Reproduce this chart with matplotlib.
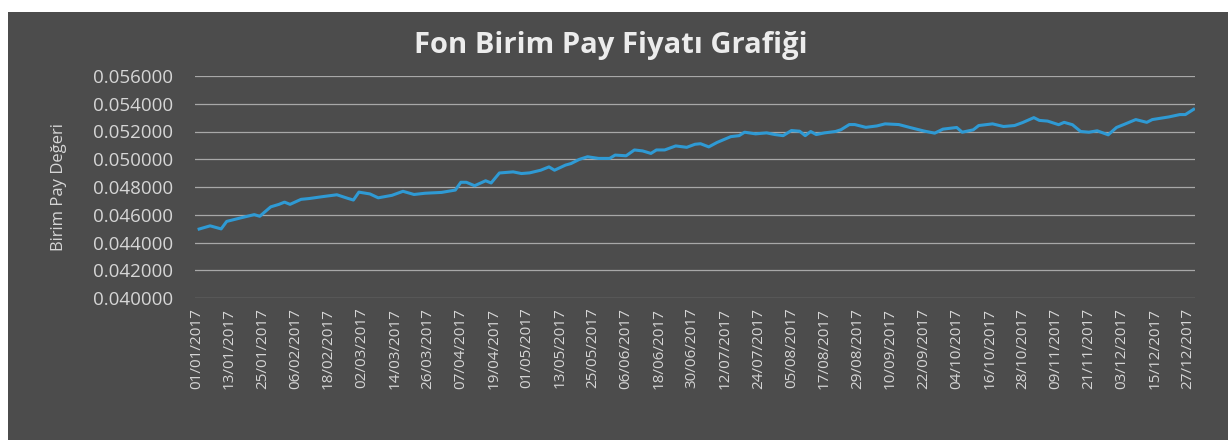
import numpy as np
import pandas as pd
import matplotlib
matplotlib.use("Agg")
import matplotlib.pyplot as plt
import matplotlib.dates as mdates
from matplotlib.patches import Rectangle

# values (date, unit price)
dates = [
    "2017-01-02", "2017-01-06", "2017-01-10", "2017-01-12", "2017-01-17", "2017-01-22",
    "2017-01-24", "2017-01-28", "2017-01-31", "2017-02-02", "2017-02-04", "2017-02-08",
    "2017-02-11", "2017-02-16", "2017-02-21", "2017-02-25", "2017-02-27", "2017-03-01",
    "2017-03-05", "2017-03-08", "2017-03-13", "2017-03-17", "2017-03-21", "2017-03-25",
    "2017-03-31", "2017-04-05", "2017-04-07", "2017-04-09", "2017-04-12", "2017-04-16",
    "2017-04-18", "2017-04-21", "2017-04-26", "2017-04-29", "2017-05-02", "2017-05-06",
    "2017-05-09", "2017-05-11", "2017-05-15", "2017-05-17", "2017-05-20", "2017-05-23",
    "2017-05-27", "2017-05-31", "2017-06-02", "2017-06-06", "2017-06-09", "2017-06-12",
    "2017-06-15", "2017-06-17", "2017-06-20", "2017-06-24", "2017-06-28", "2017-07-01",
    "2017-07-03", "2017-07-06", "2017-07-09", "2017-07-14", "2017-07-17", "2017-07-19",
    "2017-07-23", "2017-07-27", "2017-07-30", "2017-08-02", "2017-08-05", "2017-08-08",
    "2017-08-10", "2017-08-12", "2017-08-14", "2017-08-17", "2017-08-21", "2017-08-23",
    "2017-08-26", "2017-08-28", "2017-09-01", "2017-09-05", "2017-09-08", "2017-09-13",
    "2017-09-17", "2017-09-22", "2017-09-26", "2017-09-29", "2017-10-04", "2017-10-06",
    "2017-10-10", "2017-10-12", "2017-10-17", "2017-10-21", "2017-10-25", "2017-10-28",
    "2017-11-01", "2017-11-03", "2017-11-06", "2017-11-10", "2017-11-12", "2017-11-15",
    "2017-11-18", "2017-11-21", "2017-11-24", "2017-11-28", "2017-12-01", "2017-12-04",
    "2017-12-08", "2017-12-12", "2017-12-14", "2017-12-20", "2017-12-24", "2017-12-26",
    "2017-12-29",
]
prices = [
    0.04497, 0.04520, 0.04498, 0.04552, 0.04577, 0.04601,
    0.04589, 0.04657, 0.04675, 0.04691, 0.04675, 0.04711,
    0.04717, 0.04731, 0.04744, 0.04718, 0.04706, 0.04763,
    0.04750, 0.04722, 0.04740, 0.04769, 0.04746, 0.04755,
    0.04761, 0.04778, 0.04834, 0.04834, 0.04809, 0.04845,
    0.04829, 0.04901, 0.04909, 0.04897, 0.04902, 0.04921,
    0.04945, 0.04921, 0.04958, 0.04969, 0.04999, 0.05018,
    0.05006, 0.05006, 0.05030, 0.05025, 0.05067, 0.05060,
    0.05042, 0.05067, 0.05067, 0.05096, 0.05086, 0.05108,
    0.05112, 0.05089, 0.05121, 0.05163, 0.05170, 0.05195,
    0.05183, 0.05190, 0.05178, 0.05170, 0.05207, 0.05202,
    0.05170, 0.05200, 0.05178, 0.05190, 0.05200, 0.05213,
    0.05250, 0.05250, 0.05230, 0.05240, 0.05255, 0.05250,
    0.05229, 0.05204, 0.05188, 0.05217, 0.05229, 0.05195,
    0.05212, 0.05243, 0.05255, 0.05236, 0.05243, 0.05265,
    0.05300, 0.05280, 0.05275, 0.05249, 0.05266, 0.05249,
    0.05200, 0.05195, 0.05205, 0.05176, 0.05229, 0.05253,
    0.05286, 0.05266, 0.05286, 0.05305, 0.05322, 0.05322,
    0.05360,
]
yticks = [0.040, 0.042, 0.044, 0.046, 0.048, 0.050, 0.052, 0.054, 0.056]
title = "Fon Birim Pay Fiyatı Grafiği"
ylabel = "Birim Pay Değeri"

x = pd.to_datetime(dates)
tick_dates = pd.date_range("2017-01-01", "2017-12-31", freq="12D")

bg = "#4c4c4c"
txt = "#d6d6d6"

fig = plt.figure(figsize=(12.28, 4.45), dpi=100, facecolor="white")
# scanned page: dark chart area with a thin white margin
fig.patches.append(Rectangle((8 / 1228, 5 / 445), 1 - 8 / 1228, 1 - 17 / 445,
                             transform=fig.transFigure, facecolor=bg,
                             edgecolor="none", zorder=-10))

ax = fig.add_axes([195 / 1228, 1 - 298 / 445, 1000 / 1228, 222 / 445])
ax.set_facecolor("none")
ax.plot(x, prices, color="#2f9ad4", lw=2.2, solid_joinstyle="round")

ax.set_ylim(0.040, 0.056)
ax.set_yticks(yticks)
ax.yaxis.set_major_formatter(plt.FormatStrFormatter("%.6f"))
ax.grid(axis="y", color="#a8a8a8", lw=0.9)
ax.set_axisbelow(True)

ax.set_xlim(pd.Timestamp("2017-01-01") - pd.Timedelta(hours=12),
            pd.Timestamp("2017-12-29") + pd.Timedelta(hours=12))
ax.set_xticks(tick_dates)
ax.xaxis.set_major_formatter(mdates.DateFormatter("%d/%m/%Y"))

for s in ax.spines.values():
    s.set_visible(False)
ax.tick_params(axis="both", length=0, colors=txt)
ax.tick_params(axis="y", labelsize=13.5, pad=16)
ax.tick_params(axis="x", labelsize=11, labelrotation=90, pad=7)
for lab in ax.get_yticklabels() + ax.get_xticklabels():
    lab.set_fontfamily("Open Sans")

ax.set_ylabel(ylabel, color=txt, fontsize=12, family="Open Sans")
ax.yaxis.set_label_coords(-128 / 1000, 0.5)
fig.text(0.497, 1 - 45 / 445, title, ha="center", va="center", color="#ececec",
         fontsize=21, fontweight="bold", family="Open Sans")

fig.savefig("out.png", dpi=100, facecolor=fig.get_facecolor())
